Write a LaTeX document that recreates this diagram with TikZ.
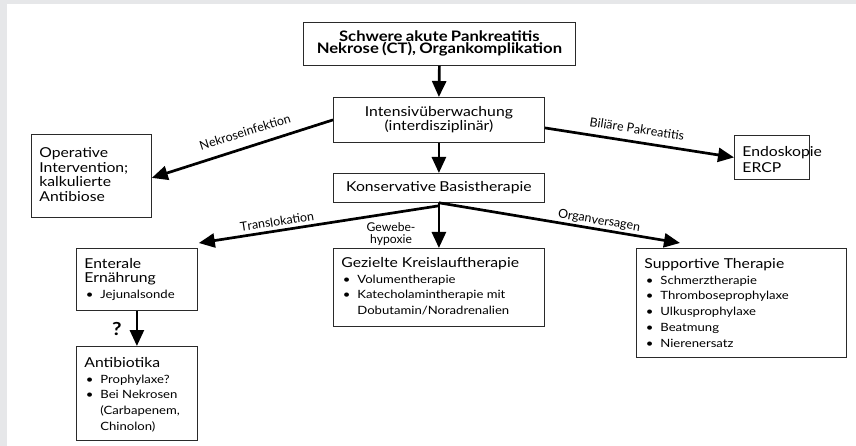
\documentclass[tikz,border=0pt]{standalone}
\usepackage{fontspec}
\setmainfont{Lato}[FakeStretch=1.15]
\newfontfamily\plainlato{Lato}[Kerning=Off]
\usetikzlibrary{arrows.meta,calc}
\definecolor{framegray}{HTML}{E6E7E9}
\definecolor{boxline}{HTML}{2A2A2A}
\newlength\mw
\newlength\mwb
\newcommand\itsize{11.4}
\newcommand\ttl{\fontsize{\ttlsize}{14.6}\selectfont}
\newcommand\itf{\fontsize{\itsize}{15.9}\selectfont}
\newcommand\lbf{\plainlato\fontsize{\lbsize}{12}\selectfont}
\newcommand\bul[1]{\par\hangindent=16pt\hangafter=1\noindent\makebox[16pt][l]{\hspace{1.5pt}\textbullet}#1}
% #1 text width, #2 height, #3 first baseline from top, #4 content
\newcommand\bx[4]{\parbox[c][#2][t]{#1}{\raggedright\rule{0pt}{#3}#4}}
% calibrate font sizes to the reference's text widths
\AtBeginDocument{%
\settowidth\mw{\normalfont\fontsize{10}{12}\selectfont Gezielte Kreislauftherapie}%
\settowidth\mwb{\normalfont\fontsize{10}{12}\selectfont Supportive Therapie}%
\pgfmathsetmacro\ttlsize{0.5*(10*189.3/\mw + 10*130.7/\mwb)}%
\settowidth\mw{\normalfont\fontsize{10}{12}\selectfont\bfseries Nekrose (CT), Organkomplikation}%
\pgfmathsetmacro\bfsize{10*246.7/\mw}%
\settowidth\mw{\plainlato\fontsize{10}{12}\selectfont Translokation}%
\settowidth\mwb{\plainlato\fontsize{10}{12}\selectfont Organversagen}%
\pgfmathsetmacro\lbsize{10*(72.5+85)/(\mw+\mwb)}%
\settowidth\mw{\plainlato\fontsize{10}{12}\selectfont hypoxie}%
\pgfmathsetmacro\gwsize{10*42/\mw}%
}
\begin{document}
\begin{tikzpicture}[x=1pt,y=-1pt,
  box/.style={draw=boxline, line width=0.8pt, inner xsep=8pt, inner ysep=0pt, anchor=north west},
  cbox/.style={box, inner xsep=2pt, align=center},
  arr/.style={line width=2.7pt, -{Triangle[length=16pt,width=14pt]}},
  lbl/.style={inner sep=0pt, font=\lbf}]
\useasboundingbox (0,0) rectangle (856,446);
\fill[framegray] (0,0) rectangle (856,446);
\fill[white] (7,4.5) rectangle (856,446);

\node[cbox, text width=268pt, minimum height=43pt] (top) at (303,22)
  {\fontsize{\bfsize}{18}\selectfont\bfseries Schwere akute Pankreatitis\\Nekrose (CT), Organkomplikation};
\node[cbox, text width=207pt, minimum height=45pt] (intens) at (333,97)
  {\fontsize{\ttlsize}{15.5}\selectfont Intensivüberwachung\\(interdisziplinär)};
\node[cbox, text width=207pt, minimum height=29pt] (kons) at (333,173)
  {\ttl Konservative Basistherapie};
\node[box] (oper) at (31,134)
  {\bx{104pt}{83pt}{23.3pt}{\ttl Operative\\Intervention;\\kalkulierte\\Antibiose}};
\node[box] (endo) at (734,135)
  {\bx{59pt}{44pt}{21pt}{\fontsize{\ttlsize}{16}\selectfont Endoskopie\\ERCP}};
\node[box] (ent) at (76,248)
  {\bx{105pt}{62pt}{19.7pt}{{\ttl Enterale\\Ernährung\par}\itf\bul{Jejunalsonde}}};
\node[box] (anti) at (76,346)
  {\bx{105pt}{94pt}{20.7pt}{{\ttl Antibiotika\par}\itf\bul{Prophylaxe?}\bul{Bei Nekrosen\newline(Carbapenem,\newline Chinolon)}}};
\node[box] (gez) at (333,248)
  {\bx{195pt}{78pt}{18.7pt}{{\ttl Gezielte Kreislauftherapie\par}\itf\bul{Volumentherapie}\bul{Katecholamintherapie mit\newline Dobutamin/Noradrenalien}}};
\node[box] (sup) at (636,248)
  {\bx{194pt}{109pt}{19.7pt}{{\ttl Supportive Therapie\par}\itf\bul{Schmerztherapie}\bul{Thromboseprophylaxe}\bul{Ulkusprophylaxe}\bul{Beatmung}\bul{Nierenersatz}}};

\draw[arr] (top.south) -- (intens.north);
\draw[arr] (intens.south) -- (kons.north);
\draw[arr] (intens.west) -- ([yshift=-2pt]oper.east);
\draw[arr] ([yshift=-8pt]intens.east) -- (endo.west);
\draw[arr] (kons.south) -- (gez.north);
\draw[arr] ([yshift=-3pt]kons.south) -- ([xshift=1pt,yshift=5pt]ent.north east);
\draw[arr] (kons.south) -- ([xshift=44pt,yshift=5pt]sup.north west);
\draw[arr] (ent.south) -- (anti.north);

\node[lbl, rotate=17.5] (l1) at (245,132) {Nekroseinfektion};
\node[lbl, rotate=-8.8] (l2) at (637,129) {Biliäre Pakreatitis};
\node[lbl, rotate=8.7] (l3) at (277,221.5) {Translokation};
\node[lbl, rotate=-9.6] (l4) at (599,221) {Organversagen};
\node[lbl, align=center, font=\plainlato\fontsize{\gwsize}{12}\selectfont] (l5) at (391,234) {Gewebe-\\hypoxie};
\node[inner sep=0pt, font=\fontsize{18}{18}\selectfont\bfseries] (q) at (117,329) {?};
\end{tikzpicture}
\end{document}
